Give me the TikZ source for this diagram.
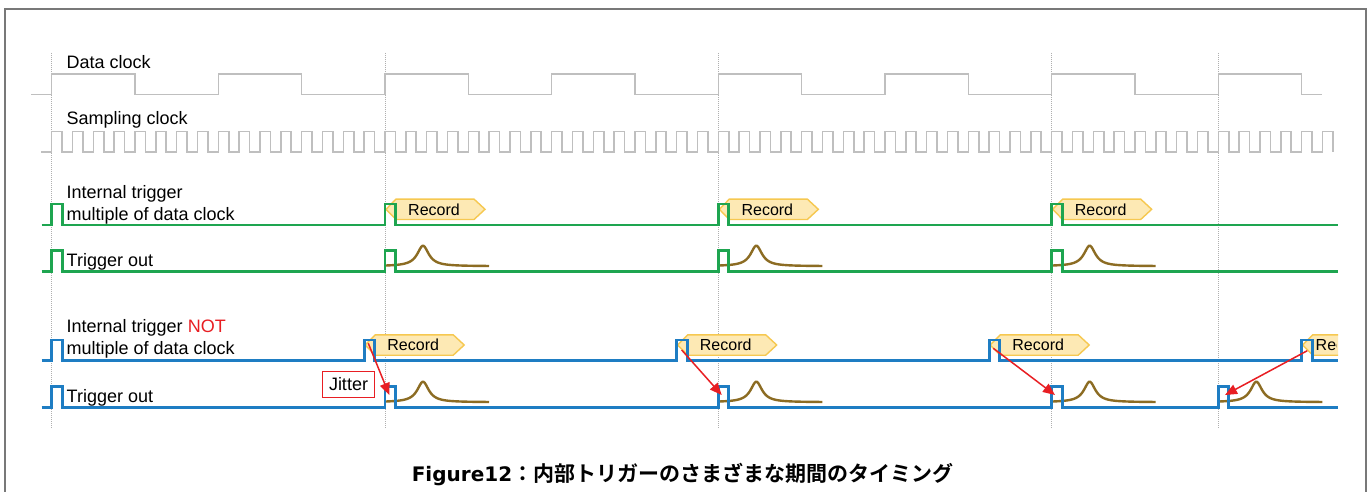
\documentclass[tikz,border=0pt]{standalone}
\usepackage{fontspec}
\setmainfont{Liberation Sans}
\newfontfamily\cjkfont{Noto Sans CJK JP}[BoldFont={Noto Sans CJK JP Bold}]
\newfontfamily\dvfont{DejaVu Sans}
\usetikzlibrary{arrows.meta}
\definecolor{clkgray}{RGB}{191,191,191}
\definecolor{dotgray}{RGB}{175,175,175}
\definecolor{framegray}{RGB}{120,120,120}
\definecolor{siggreen}{RGB}{30,165,80}
\definecolor{sigblue}{RGB}{30,125,195}
\definecolor{sigbrown}{RGB}{140,108,35}
\definecolor{tagfill}{RGB}{253,233,180}
\definecolor{tagedge}{RGB}{246,200,80}
\definecolor{jitred}{RGB}{232,30,35}
\newcommand\recordtag[4]{%
  \draw[tagshape] (#1+1,#2) -- (#1+11,#2-10.2) -- (#1+89,#2-10.2) -- (#1+100,#2)
     -- (#1+89,#2+10.2) -- (#1+11,#2+10.2) -- cycle;
  \node[tagtext] (#4) at (#1+49,#3) {Record};
}
\begin{document}
\begin{tikzpicture}[x=1pt,y=-1pt,
  frame/.style={draw=framegray,line width=2pt},
  dotline/.style={draw=dotgray,line width=0.8pt,dash pattern=on 1pt off 1pt},
  clk/.style={draw=clkgray,line width=1.6pt},
  grn/.style={draw=siggreen,line width=2.8pt},
  blu/.style={draw=sigblue,line width=2.8pt},
  brn/.style={draw=sigbrown,line width=2.4pt},
  tagshape/.style={draw=tagedge,fill=tagfill,line width=1.4pt,line join=miter},
  tagtext/.style={anchor=base,inner sep=0pt,font=\fontsize{16}{19}\selectfont},
  lbl/.style={anchor=base west,inner sep=0pt,font=\fontsize{18}{21.6}\selectfont},
  jitterbox/.style={draw=jitred,fill=white,line width=1pt,inner sep=0pt,
     minimum width=51.6pt,minimum height=26.3pt,font=\fontsize{18}{21.6}\selectfont},
  jitarrow/.style={draw=jitred,line width=1.5pt,-{Triangle[length=12pt,width=10pt]}}
]
\useasboundingbox (0,0) rectangle (1371,492);
\fill[white] (0,0) rectangle (1371,492);
% frame
\draw[frame] (5,494) -- (5,9) -- (1366,9) -- (1366,494);
% dotted reference lines
\foreach \d in {51.667,385,718.333,1051.667,1218.333}
  \draw[dotline] (\d,53) -- (\d,428);
% data clock
\draw[clk] (31,94.7) -- (51.667,94.7)
  \foreach \k in {1,...,7} { -- ++(0,-20.7) -- ++(83.333,0) -- ++(0,20.7) -- ++(83.333,0) }
  -- ++(0,-20.7) -- ++(83.333,0) -- ++(0,20.7) -- ++(20.3,0);
% sampling clock
\draw[clk] (41,152.3) -- (51.667,152.3)
  \foreach \k in {1,...,61} { -- ++(0,-20.6) -- ++(10.4167,0) -- ++(0,20.6) -- ++(10.4167,0) }
  -- ++(0,-20.6) -- ++(10.4167,0) -- ++(0,20.6);
% labels
\node[lbl] (ldclk) at (66.5,68.3) {Data clock};
\node[lbl] (lsclk) at (66.5,125) {Sampling clock};
\node[lbl] (litA1) at (66.5,198.3) {Internal trigger};
\node[lbl] (litA2) at (66.5,220) {multiple of data clock};
\node[lbl] (ltoA) at (66.5,266) {Trigger out};
\node[lbl] (litB1) at (66.5,332.7) {Internal trigger \textcolor{jitred}{NOT}};
\node[lbl] (litB2) at (66.5,354.3) {multiple of data clock};
\node[lbl] (ltoB) at (66.5,402) {Trigger out};
% record tags (green)
\recordtag{385}{209.3}{215.7}{recA1}
\recordtag{718.333}{209.3}{215.7}{recA2}
\recordtag{1051.667}{209.3}{215.7}{recA3}
% record tags (blue)
\recordtag{364.2}{345}{350.7}{recB1}
\recordtag{676.7}{345}{350.7}{recB2}
\recordtag{989.2}{345}{350.7}{recB3}
\begin{scope}
  \clip (0,0) rectangle (1338,492);
  \draw[tagshape] (1302.7,345) -- (1312.7,334.8) -- (1390.7,334.8) -- (1401.7,345)
     -- (1390.7,355.2) -- (1312.7,355.2) -- cycle;
\end{scope}
\begin{scope}
  \clip (0,0) rectangle (1336.3,492);
  \node[tagtext,anchor=base west] (recB4) at (1315.5,350.7) {Record};
\end{scope}
% brown output pulses
\foreach \s in {385,718.333,1051.667}
  \draw[brn] plot[domain=0:104,samples=90,smooth] ({\s+\x},{266.2-20.5/(1+((\x-38)/7)^2)});
\foreach \s in {385,718.333,1051.667,1218.333}
  \draw[brn] plot[domain=0:104,samples=90,smooth] ({\s+\x},{402.2-20.5/(1+((\x-38)/7)^2)});
% green signals
\draw[grn] (41.7,225) \foreach \p in {51.667,385,718.333,1051.667}
  { -- (\p,225) -- (\p,204) -- (\p+10.5,204) -- (\p+10.5,225) } -- (1337.7,225);
\draw[grn] (41.7,271.7) \foreach \p in {51.667,385,718.333,1051.667}
  { -- (\p,271.7) -- (\p,250.7) -- (\p+10.5,250.7) -- (\p+10.5,271.7) } -- (1337.7,271.7);
% blue signals
\draw[blu] (41.7,360.7) \foreach \p in {51.667,364.2,676.7,989.2,1301.7}
  { -- (\p,360.7) -- (\p,340) -- (\p+10.5,340) -- (\p+10.5,360.7) } -- (1338,360.7);
\draw[blu] (41.7,407.7) \foreach \p in {51.667,385,718.333,1051.667,1218.333}
  { -- (\p,407.7) -- (\p,386.7) -- (\p+10.5,386.7) -- (\p+10.5,407.7) } -- (1338,407.7);
% jitter
\node[jitterbox] (jit) at (348.5,384.2) {Jitter};
\coordinate (j1s) at (368.3,343.3);
\coordinate (j1e) at (389.3,395);
\coordinate (j2s) at (681.7,350);
\coordinate (j2e) at (721.7,395);
\coordinate (j3s) at (993.3,348.3);
\coordinate (j3e) at (1055,395);
\coordinate (j4s) at (1307.3,350.7);
\coordinate (j4e) at (1225,395);
\draw[jitarrow] (j1s) -- (j1e);
\draw[jitarrow] (j2s) -- (j2e);
\draw[jitarrow] (j3s) -- (j3e);
\draw[jitarrow] (j4s) -- (j4e);
% caption
\node[anchor=base,inner sep=0pt] (cap) at (682.5,481.5)
  {\dvfont\bfseries\fontsize{20}{24}\selectfont Figure12\cjkfont\bfseries\fontsize{21}{24}\selectfont ：内部トリガーのさまざまな期間のタイミング};
\end{tikzpicture}
\end{document}
